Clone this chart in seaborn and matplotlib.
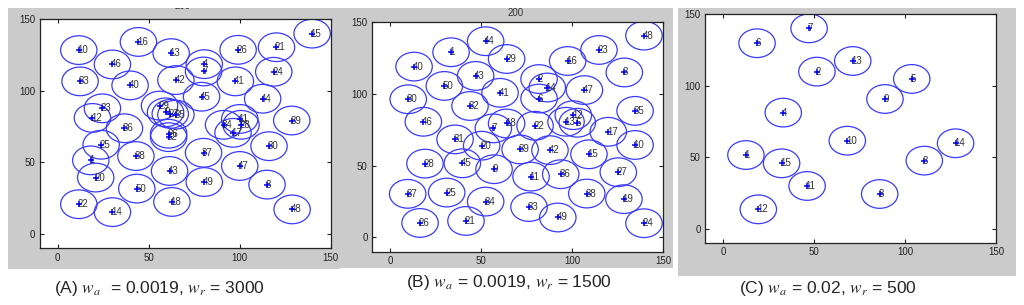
import matplotlib
matplotlib.use("Agg")
import matplotlib.pyplot as plt
from matplotlib.patches import Rectangle, Circle
import seaborn as sns
import pandas as pd

# Panel A: w_a = 0.0019, w_r = 3000
a_x = [11.6, 44.4, 30.1, 62.4, 80.6, 80.2, 99.2, 120.3, 139.9, 118.8, 12.3, 39.8, 65.0, 97.7,
       79.1, 112.7, 24.6, 19.1, 36.7, 128.7, 23.9, 116.2, 18.2, 43.0, 80.2, 100.1, 20.9, 61.5,
       43.5, 80.6, 115.1, 11.6, 62.8, 30.1, 128.9, 56.0, 59.3, 61.9, 65.0, 61.0, 61.0, 91.2,
       100.1, 100.8, 96.4]
a_y = [128.3, 134.0, 118.3, 126.2, 118.5, 113.4, 128.5, 130.3, 139.8, 113.2, 106.5, 103.7, 107.4,
       106.5, 95.8, 94.4, 87.7, 81.0, 73.8, 79.2, 62.3, 61.3, 51.4, 54.4, 56.7, 47.5, 39.4, 44.0,
       31.7, 36.3, 34.5, 20.8, 22.4, 15.3, 17.2, 89.6, 84.9, 83.8, 83.3, 70.0, 67.6, 76.2, 80.3,
       76.2, 70.6]
a_lbl = ["10", "16", "46", "13", "4", "7", "26", "21", "15", "24", "33", "40", "42", "41",
         "45", "44", "23", "12", "36", "39", "25", "30", "1", "38", "37", "47", "20", "43",
         "50", "49", "8", "22", "18", "14", "48", "29", "9", "27", "35", "26", "32", "34",
         "11", "28", "17"]

# Panel B: w_a = 0.0019, w_r = 1500
b_x = [52.5, 33.5, 64.0, 13.2, 97.5, 114.7, 139.4, 128.6, 47.0, 29.8, 81.8, 86.3, 60.4, 106.7,
       81.8, 10.0, 43.9, 134.5, 18.3, 64.0, 56.7, 79.6, 100.6, 96.6, 102.8, 119.8, 35.7, 50.3,
       134.5, 71.4, 87.8, 19.2, 39.7, 57.1, 109.2, 77.4, 93.7, 125.3, 9.7, 31.1, 108.0, 52.5,
       76.3, 128.4, 92.1, 16.5, 41.7, 139.4]
b_y = [136.8, 129.1, 124.4, 119.1, 123.0, 130.7, 140.7, 115.0, 112.6, 105.6, 110.4, 104.5, 100.8,
       102.7, 96.8, 96.3, 91.6, 88.2, 80.6, 79.4, 76.0, 77.8, 85.2, 80.6, 79.9, 73.6, 68.3, 63.9,
       64.4, 61.3, 60.8, 51.4, 51.6, 47.5, 57.9, 42.3, 44.0, 45.4, 30.3, 31.2, 30.5, 24.9, 21.1,
       26.6, 13.8, 10.0, 11.4, 9.8]
b_lbl = ["44", "1", "29", "40", "16", "23", "48", "3", "43", "50", "2", "14", "41", "47",
         "6", "30", "32", "35", "46", "18", "7", "22", "12", "13", "5", "17", "31", "20",
         "10", "39", "42", "28", "45", "9", "15", "11", "36", "27", "37", "25", "38", "34",
         "33", "19", "49", "26", "21", "24"]

# Panel C: w_a = 0.02, w_r = 500
c_x = [47.3, 18.7, 51.6, 71.3, 103.7, 89.0, 33.1, 68.3, 127.8, 12.6, 32.2, 46.2, 19.4, 110.6, 86.1]
c_y = [140.0, 129.6, 109.8, 117.2, 104.7, 90.7, 81.2, 61.6, 59.8, 51.6, 45.8, 30.0, 13.7, 47.7, 24.4]
c_lbl = ["7", "6", "2", "13", "5", "9", "4", "10", "14", "1", "15", "11", "12", "3", "8"]

captions = [r"(A) $w_a$  = 0.0019, $w_r$ = 3000",
            r"(B) $w_a$ = 0.0019, $w_r$ = 1500",
            r"(C) $w_a$ = 0.02, $w_r$ = 500"]

sns.set_style("ticks")
plt.rcParams["font.family"] = ["Liberation Sans", "DejaVu Sans"]
plt.rcParams["mathtext.fontset"] = "stix"

W, H = 1024, 305
fig = plt.figure(figsize=(W / 100, H / 100), dpi=100)
grey = "#cbcbcb"


def fig_rect(x0, y0, x1, y1, color, z):
    fig.patches.append(Rectangle((x0 / W, 1 - y1 / H), (x1 - x0) / W, (y1 - y0) / H,
                                 transform=fig.transFigure, facecolor=color,
                                 edgecolor="none", zorder=z))


# grey MATLAB window backgrounds (behind the axes)
fig_rect(8, 8, 340, 269, grey, -2)
fig_rect(340, 7, 673, 268, grey, -2)
fig_rect(678, 8, 1016, 276, grey, -2)

# axes boxes in pixel coordinates (left, top, right, bottom)
boxes = [(39.5, 19, 330.5, 248.4), (371.8, 22.3, 663.3, 251.6), (704.8, 14, 996, 243.3)]
panels = [(a_x, a_y, a_lbl), (b_x, b_y, b_lbl), (c_x, c_y, c_lbl)]

for (l, t, r, b), (xs, ys, lbls) in zip(boxes, panels):
    ax = fig.add_axes([l / W, 1 - b / H, (r - l) / W, (b - t) / H])
    ax.set_facecolor("white")
    df = pd.DataFrame({"x": xs, "y": ys, "label": lbls})
    for _, row in df.iterrows():
        ax.add_patch(Circle((row["x"], row["y"]), 10, fill=False,
                            edgecolor="#3a3aff", linewidth=0.9))
        ax.text(row["x"] - 0.8, row["y"], row["label"], fontsize=7, color="#333333",
                ha="left", va="center")
    sns.scatterplot(data=df, x="x", y="y", marker="+", color="#0000ee", s=22,
                    linewidth=1.1, ax=ax, zorder=3)
    ax.set_xlim(-10, 150)
    ax.set_ylim(-10, 150)
    ax.set_xticks([0, 50, 100, 150])
    ax.set_yticks([0, 50, 100, 150])
    ax.set_xlabel("")
    ax.set_ylabel("")
    ax.tick_params(direction="in", length=3, width=0.8, labelsize=7, colors="#222222",
                   top=True, right=True, pad=3)
    for s in ax.spines.values():
        s.set_visible(True)
        s.set_linewidth(0.9)
        s.set_color("#222222")

# stray "200" labels above panels A and B
fig.text(183 / W, 1 - 6 / H, "200", fontsize=7, color="#333333", ha="center", va="center")
fig.text(516 / W, 1 - 12.5 / H, "200", fontsize=7, color="#333333", ha="center", va="center")
fig_rect(0, 0, W, 7.5, "white", 5)

# panel captions
fig.text(159 / W, 1 - 289 / H, captions[0], fontsize=12.5, ha="center", va="center")
fig.text(509 / W, 1 - 282 / H, captions[1], fontsize=12.5, ha="center", va="center")
fig.text(828 / W, 1 - 288 / H, captions[2], fontsize=12.5, ha="center", va="center")

fig.savefig("out.png", dpi=100)
